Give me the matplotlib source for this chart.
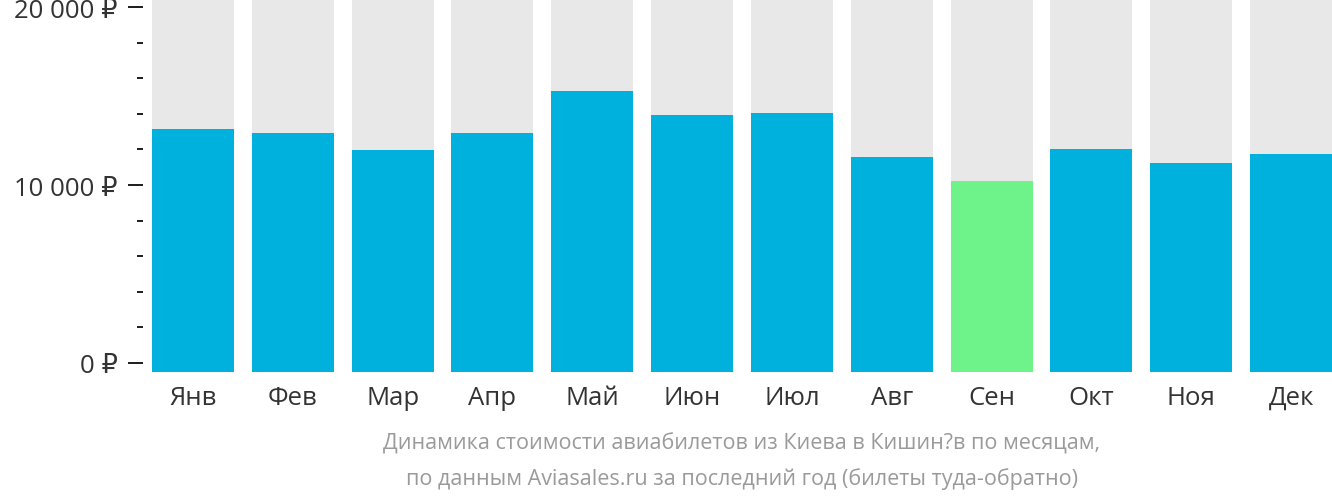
import numpy as np
import matplotlib
matplotlib.use('Agg')
import matplotlib.pyplot as plt
from matplotlib.ticker import MultipleLocator, FuncFormatter

plt.rcParams['font.family'] = ['Open Sans', 'DejaVu Sans']

#Data
months = ['Янв', 'Фев', 'Мар', 'Апр', 'Май', 'Июн', 'Июл', 'Авг', 'Сен', 'Окт', 'Ноя', 'Дек']
prices = [13150, 12920, 11970, 12920, 15280, 13930, 14040, 11570, 10220, 12020, 11240, 11740]
cheapest = 'Сен'
caption = ['Динамика стоимости авиабилетов из Киева в Кишин?в по месяцам,',
           'по данным Aviasales.ru за последний год (билеты туда-обратно)']

#Styling constants
blue = '#00b1dd'
green = '#6ef28a'
grey = '#e8e8e8'
y_bottom = -506
y_top = 20450
bar_w = 0.82
px = 72 / 100   #points per pixel at dpi 100

fig = plt.figure(figsize=(13.32, 5.02), dpi=100)
ax = fig.add_axes([152 / 1332, 129 / 502, 1180 / 1332, 373 / 502])

x = np.arange(len(months))
colors = [green if m == cheapest else blue for m in months]
ax.bar(x, y_top - y_bottom, bottom=y_bottom, width=bar_w, color=grey, linewidth=0)
ax.bar(x, np.array(prices) - y_bottom, bottom=y_bottom, width=bar_w, color=colors, linewidth=0)

ax.set_xlim(-bar_w / 2, len(months) - 1 + bar_w / 2)
ax.set_ylim(y_bottom, y_top)

for s in ax.spines.values():
    s.set_visible(False)
ax.spines['left'].set_position(('outward', 9 * px))

ax.yaxis.set_major_locator(MultipleLocator(10000))
ax.yaxis.set_minor_locator(MultipleLocator(2000))
ax.yaxis.set_major_formatter(FuncFormatter(lambda v, p: '{:,.0f} ₽'.format(v).replace(',', ' ')))
ax.tick_params(axis='y', which='major', length=15 * px, width=2 * px, color='#222222',
               labelsize=18.5, labelcolor='#333333', pad=10 * px)
ax.tick_params(axis='y', which='minor', length=6 * px, width=2 * px, color='#222222')

ax.set_xticks(x)
ax.set_xticklabels(months)
ax.tick_params(axis='x', length=0, labelsize=18.5, labelcolor='#333333', pad=32 * px)
plt.setp(ax.get_xticklabels(), va='baseline')

fig.text(742 / 1332, 1 - 444 / 502, caption[0], ha='center', va='center', fontsize=15.5, color='#9a9a9a')
fig.text(742 / 1332, 1 - 479 / 502, caption[1], ha='center', va='center', fontsize=15.5, color='#9a9a9a')

fig.savefig('out.png', dpi=100)
